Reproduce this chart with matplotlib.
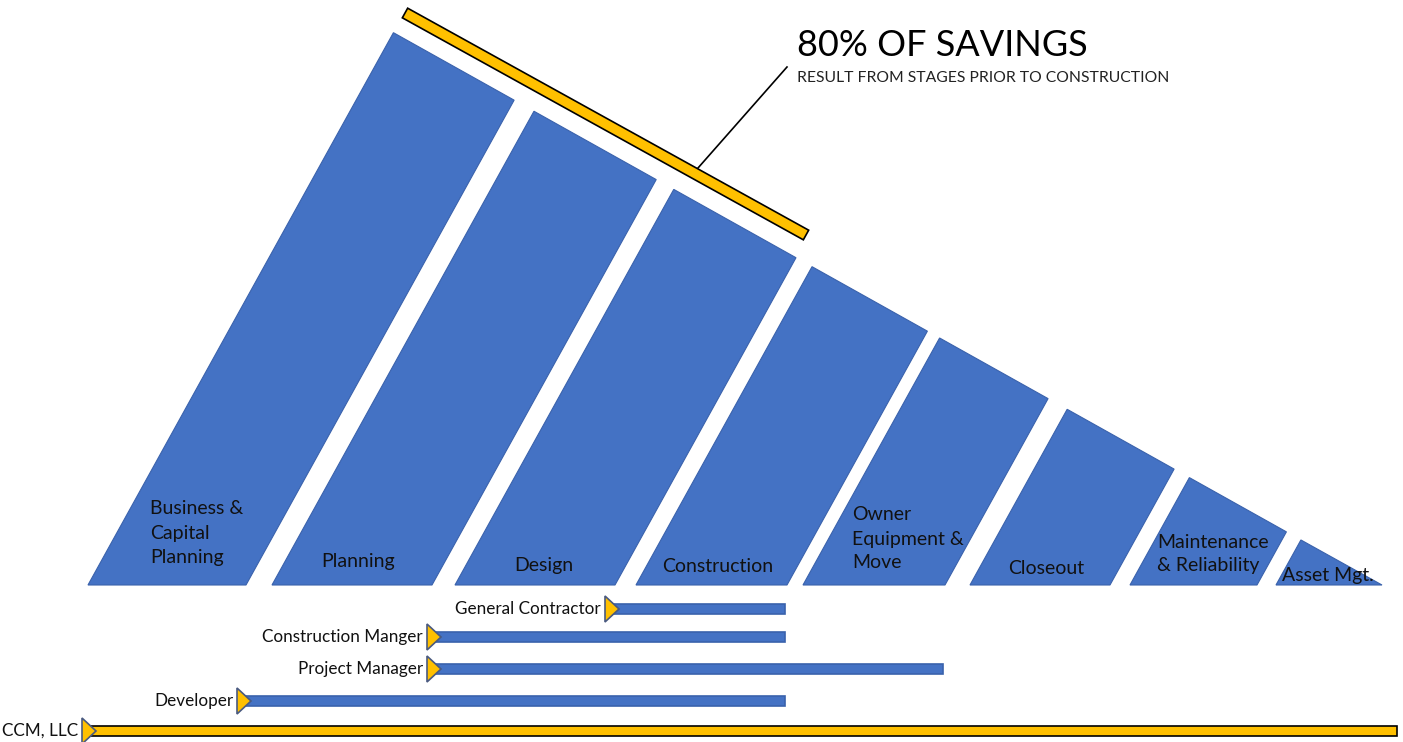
import numpy as np
import matplotlib.pyplot as plt
from matplotlib.patches import Polygon

plt.rcParams['font.family'] = ['Lato', 'DejaVu Sans']

# stages: bottom edge start/end along the baseline (px)
stage_names = ['Business &\nCapital\nPlanning', 'Planning', 'Design', 'Construction',
               'Owner\nEquipment &\nMove', 'Closeout', 'Maintenance\n& Reliability', 'Asset Mgt.']
stage_start = [88, 272, 455, 636, 803, 970, 1130, 1276]
stage_end = [246, 432, 615, 787, 945, 1110, 1257, 1382]

# roles: start / end of each bar (px)
role_names = ['General Contractor', 'Construction Manger', 'Project Manager', 'Developer', 'CCM, LLC']
role_start = [612, 434, 434, 244, 89]
role_end = [785, 785, 943, 785, 1397]
role_y = [609, 637, 669, 701, 731]

blue = '#4472C4'
gold = '#FFC000'

base = 585.
top_x0, top_y0 = 394., 33.   # where the hypotenuse starts
m = 0.559                      # slope of the top line
s = 0.553                      # side lean (dx per px up)

def top_point(xb):
    h = (base - top_y0 - m * (xb - top_x0)) / (1 + m * s)
    h = max(h, 0)
    return xb + s * h, base - h

fig = plt.figure(figsize=(14.03, 7.42), dpi=100)
ax = fig.add_axes([0, 0, 1, 1])
ax.set_xlim(0, 1403)
ax.set_ylim(742, 0)
ax.axis('off')

for i in range(len(stage_names)):
    x0, x1 = stage_start[i], stage_end[i]
    tl = top_point(x0)
    tr = top_point(x1)
    if tr[1] >= base - 0.5:
        pts = [(x0, base), tl, (x1, base)]
    else:
        pts = [(x0, base), tl, tr, (x1, base)]
    ax.add_patch(Polygon(pts, closed=True, facecolor=blue, edgecolor='#3A62AC', lw=0.8))

# stage labels
lab = dict(fontsize=14, color='#111111')
ax.text(150, 533, stage_names[0], ha='left', va='center', linespacing=1.5, **lab)
ax.text(358, 561, stage_names[1], ha='center', va='center', **lab)
ax.text(544, 566, stage_names[2], ha='center', va='center', **lab)
ax.text(718, 566, stage_names[3], ha='center', va='center', **lab)
ax.text(852, 539, stage_names[4], ha='left', va='center', linespacing=1.5, **lab)
ax.text(1046, 568, stage_names[5], ha='center', va='center', **lab)
ax.text(1157, 554, stage_names[6], ha='left', va='center', linespacing=1.5, **lab)
ax.text(1282, 575, stage_names[7], ha='left', va='center', **lab)

# yellow savings bar on top
p0 = np.array([405., 13.])
p1 = np.array([806., 235.])
d = (p1 - p0) / np.linalg.norm(p1 - p0)
n = np.array([-d[1], d[0]]) * 5.5
ax.add_patch(Polygon([p0 + n, p1 + n, p1 - n, p0 - n], closed=True,
                     facecolor=gold, edgecolor='black', lw=1.2))
ax.plot([698, 787], [168, 67], color='black', lw=1.2)
ax.text(797, 56, '80% OF SAVINGS', fontsize=26, ha='left', va='baseline', color='black')
ax.text(797, 82, 'RESULT FROM STAGES PRIOR TO CONSTRUCTION', fontsize=11.3,
        ha='left', va='baseline', color='#222222')

# role bars
for i in range(len(role_names)):
    y = role_y[i]
    xs, xe = role_start[i], role_end[i]
    if i == len(role_names) - 1:
        fc, ec = gold, 'black'
    else:
        fc, ec = blue, '#3A62AC'
    ax.add_patch(plt.Rectangle((xs, y - 5), xe - xs, 10, facecolor=fc, edgecolor=ec, lw=1.2))
    tx = xs - 7
    ax.add_patch(Polygon([(tx, y - 13), (tx + 14, y), (tx, y + 13)], closed=True,
                         facecolor=gold, edgecolor='#4A5A80', lw=1.2))
    ax.text(tx - 4, y, role_names[i], ha='right', va='center', fontsize=12.3, color='#111111')

fig.savefig('out.png', dpi=100)
